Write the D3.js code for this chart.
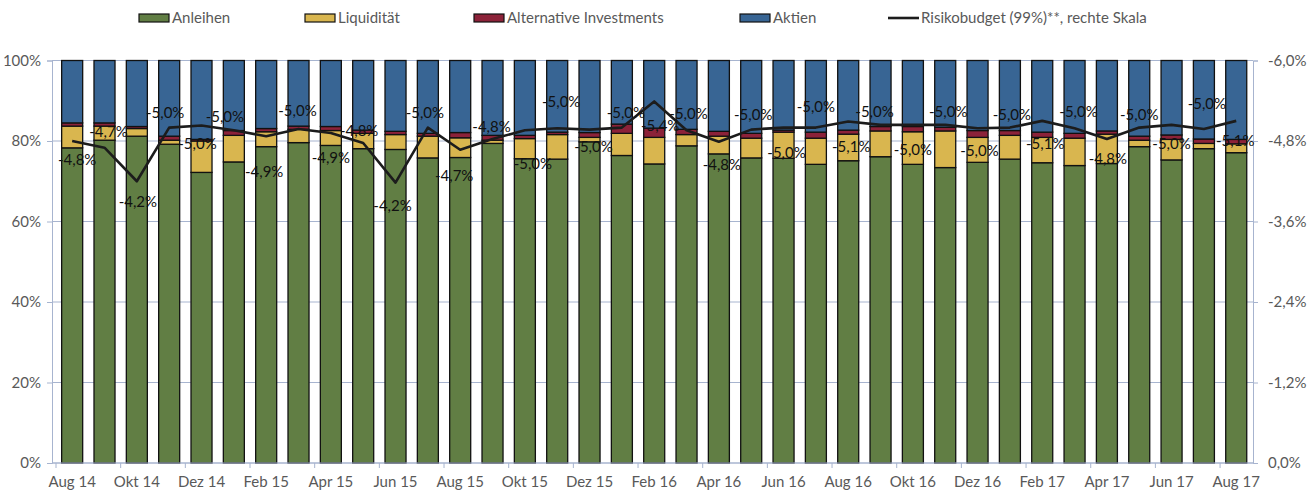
<!DOCTYPE html>
<html>
<head>
<meta charset="utf-8">
<script src="https://cdn.jsdelivr.net/npm/d3@7"></script>
<style>
  body { margin: 0; background: #fff; }
  svg { font-family: Lato, "Open Sans", sans-serif; }
</style>
</head>
<body>
<div id="chart"></div>
<script>
// Monate Aug 14 - Aug 17
const months = ["Aug 14","Sep 14","Okt 14","Nov 14","Dez 14","Jan 15","Feb 15","Mär 15","Apr 15","Mai 15","Jun 15","Jul 15",
  "Aug 15","Sep 15","Okt 15","Nov 15","Dez 15","Jan 16","Feb 16","Mär 16","Apr 16","Mai 16","Jun 16","Jul 16",
  "Aug 16","Sep 16","Okt 16","Nov 16","Dez 16","Jan 17","Feb 17","Mär 17","Apr 17","Mai 17","Jun 17","Jul 17","Aug 17"];

// Anteile in %
const anleihen = [78.3,80.2,81.2,79.2,72.2,74.8,78.6,79.6,78.9,78.1,77.9,75.8,
  75.9,79.4,75.6,75.5,79.8,76.4,74.3,78.8,76.8,75.8,75.7,74.2,
  75.1,76.1,74.2,73.4,74.7,75.5,74.6,73.9,74.4,78.6,75.3,78.1,77.1];
const liquiditaet = [5.4,3.5,1.9,1.0,7.8,6.6,3.7,3.3,3.7,3.8,3.7,5.4,
  4.9,0.8,5.0,6.1,1.1,5.5,6.6,2.8,4.4,4.9,6.5,6.5,
  6.6,6.4,8.1,9.1,6.2,5.9,6.3,6.8,7.3,1.6,5.1,1.3,2.2];
const alternative = [0.8,0.8,0.5,1.0,0.4,1.2,0.8,0.8,1.0,0.8,0.8,0.7,
  1.3,1.2,0.8,0.6,1.2,2.3,2.3,1.3,1.2,1.2,0.5,1.5,
  1.0,1.1,1.3,0.9,1.7,1.2,1.3,1.2,0.8,1.0,1.1,1.1,1.1];
// Aktien = Rest auf 100 %
const aktien = anleihen.map((d, i) => +(100 - d - liquiditaet[i] - alternative[i]).toFixed(1));

// Risikobudget (99%), rechte Skala
const risiko = [-4.8,-4.7,-4.2,-5.0,-5.03,-4.96,-4.87,-4.98,-4.92,-4.77,-4.18,-5.0,
  -4.67,-4.83,-4.96,-4.99,-4.97,-5.0,-5.39,-4.96,-4.79,-4.97,-5.0,-5.0,
  -5.09,-5.04,-5.04,-5.04,-4.99,-5.0,-5.1,-4.99,-4.83,-5.0,-5.04,-4.98,-5.1];

const leftTicks = [0, 20, 40, 60, 80, 100];
const rightTicks = [0, -1.2, -2.4, -3.6, -4.8, -6.0];

// Lage der Datenbeschriftungen (px relativ zum Punkt)
const labelDy = [19,-16,21,-15,18,-13,36,-18,25,-12,23,-15,
  26,-12,34,-26,17,-15,25,-16,23,-15,25,-21,
  25,-13,25,-13,23,-13,23,-16,20,-13,19,-25,20];
const labelDx = [5,4,1,-4,-4,-9,-2,-1,0,-4,-3,-3,
  -6,-1,8,4,4,4,6,2,3,2,3,0,
  3,-6,0,3,2,2,3,4,1,0,0,3,-1];

const W = 1309, H = 490;
const xLeft = 52, xRight = 1253, yTop = 60.5, yBottom = 463;

const svg = d3.select("#chart").append("svg")
  .attr("width", W).attr("height", H);

const x = d3.scaleBand()
  .domain(months)
  .range([56, 1252.4])
  .paddingInner(0.35)
  .paddingOuter(0.175);

const y = d3.scaleLinear().domain([0, 100]).range([yBottom, yTop]);
const y2 = d3.scaleLinear().domain([0, -6]).range([yBottom, yTop]);

const gridColor = "#a7b4cf";
const textColor = "#595959";
const fmt = v => v.toFixed(1).replace(".", ",") + "%";

// Gitterlinien
svg.append("g").selectAll("line")
  .data(leftTicks)
  .join("line")
  .attr("x1", xLeft).attr("x2", xRight)
  .attr("y1", d => y(d)).attr("y2", d => y(d))
  .attr("stroke", gridColor).attr("stroke-width", 1);

// Linke Achse
const axL = svg.append("g")
  .attr("transform", `translate(${xLeft},0)`)
  .call(d3.axisLeft(y).tickValues(leftTicks).tickSize(5).tickPadding(6).tickFormat(d => d + "%"));
axL.select(".domain").attr("stroke", gridColor);
axL.selectAll(".tick line").attr("stroke", gridColor);
axL.selectAll("text").attr("fill", textColor).style("font-size", "15px").style("font-family", "Lato, sans-serif");

// Rechte Achse
const axR = svg.append("g")
  .attr("transform", `translate(${xRight},0)`)
  .call(d3.axisRight(y2).tickValues(rightTicks).tickSize(5).tickPadding(10).tickFormat(fmt));
axR.select(".domain").attr("stroke", gridColor);
axR.selectAll(".tick line").attr("stroke", gridColor);
axR.selectAll("text").attr("fill", textColor).style("font-size", "15px").style("font-family", "Lato, sans-serif");

// Gestapelte Balken
const keys = ["anleihen", "liquiditaet", "alternative", "aktien"];
const colors = {anleihen: "#617e44", liquiditaet: "#d9b64f", alternative: "#8c2239", aktien: "#386594"};
const rows = months.map((m, i) => ({
  month: m,
  anleihen: anleihen[i],
  liquiditaet: liquiditaet[i],
  alternative: alternative[i],
  aktien: aktien[i]
}));
const stack = d3.stack().keys(keys)(rows);

svg.append("g").selectAll("g")
  .data(stack)
  .join("g")
  .attr("fill", d => colors[d.key])
  .selectAll("rect")
  .data(d => d)
  .join("rect")
  .attr("x", d => x(d.data.month))
  .attr("width", x.bandwidth())
  .attr("y", d => y(d[1]))
  .attr("height", d => y(d[0]) - y(d[1]))
  .attr("stroke", "#111")
  .attr("stroke-width", 1.3);

// X-Achse
const xTickPos = months.map((m, i) => i).filter(i => i % 2 === 0).map(i => 56 + i * x.step());
svg.append("line")
  .attr("x1", xLeft).attr("x2", xRight)
  .attr("y1", yBottom).attr("y2", yBottom)
  .attr("stroke", gridColor);
svg.append("g").selectAll("line")
  .data(xTickPos)
  .join("line")
  .attr("x1", d => d).attr("x2", d => d)
  .attr("y1", yBottom).attr("y2", yBottom + 5)
  .attr("stroke", gridColor);
svg.append("g").selectAll("text")
  .data(months.filter((m, i) => i % 2 === 0))
  .join("text")
  .attr("x", d => x(d) + x.bandwidth() / 2)
  .attr("y", 487)
  .attr("text-anchor", "middle")
  .attr("fill", textColor)
  .style("font-size", "15px")
  .text(d => d);

// Risikobudget-Linie
const line = d3.line()
  .x((d, i) => x(months[i]) + x.bandwidth() / 2)
  .y(d => y2(d));
svg.append("path")
  .datum(risiko)
  .attr("d", line)
  .attr("fill", "none")
  .attr("stroke", "#1c1c1c")
  .attr("stroke-width", 2.6)
  .attr("stroke-linejoin", "round");

// Datenbeschriftungen
svg.append("g").selectAll("text")
  .data(risiko)
  .join("text")
  .attr("x", (d, i) => x(months[i]) + x.bandwidth() / 2 + labelDx[i])
  .attr("y", (d, i) => y2(d) + labelDy[i] + 5)
  .attr("text-anchor", "middle")
  .attr("fill", "#111")
  .style("font-size", "15px")
  .text(d => fmt(Math.round(d * 10) / 10));

// Legende
const legend = [
  {name: "Anleihen", color: colors.anleihen, x: 139},
  {name: "Liquidität", color: colors.liquiditaet, x: 305},
  {name: "Alternative Investments", color: colors.alternative, x: 474},
  {name: "Aktien", color: colors.aktien, x: 740},
  {name: "Risikobudget (99%)**, rechte Skala", color: null, x: 888}
];
const lg = svg.append("g").selectAll("g")
  .data(legend)
  .join("g")
  .attr("transform", d => `translate(${d.x},18)`);
lg.filter(d => d.color)
  .append("rect")
  .attr("x", 0).attr("y", -4).attr("width", 30).attr("height", 8)
  .attr("fill", d => d.color)
  .attr("stroke", "#111").attr("stroke-width", 1.2);
lg.filter(d => !d.color)
  .append("line")
  .attr("x1", 0).attr("x2", 31).attr("y1", 0).attr("y2", 0)
  .attr("stroke", "#1c1c1c").attr("stroke-width", 2.6);
lg.append("text")
  .attr("x", 33).attr("y", 5)
  .attr("fill", textColor)
  .style("font-size", "15px")
  .text(d => d.name);
</script>
</body>
</html>
